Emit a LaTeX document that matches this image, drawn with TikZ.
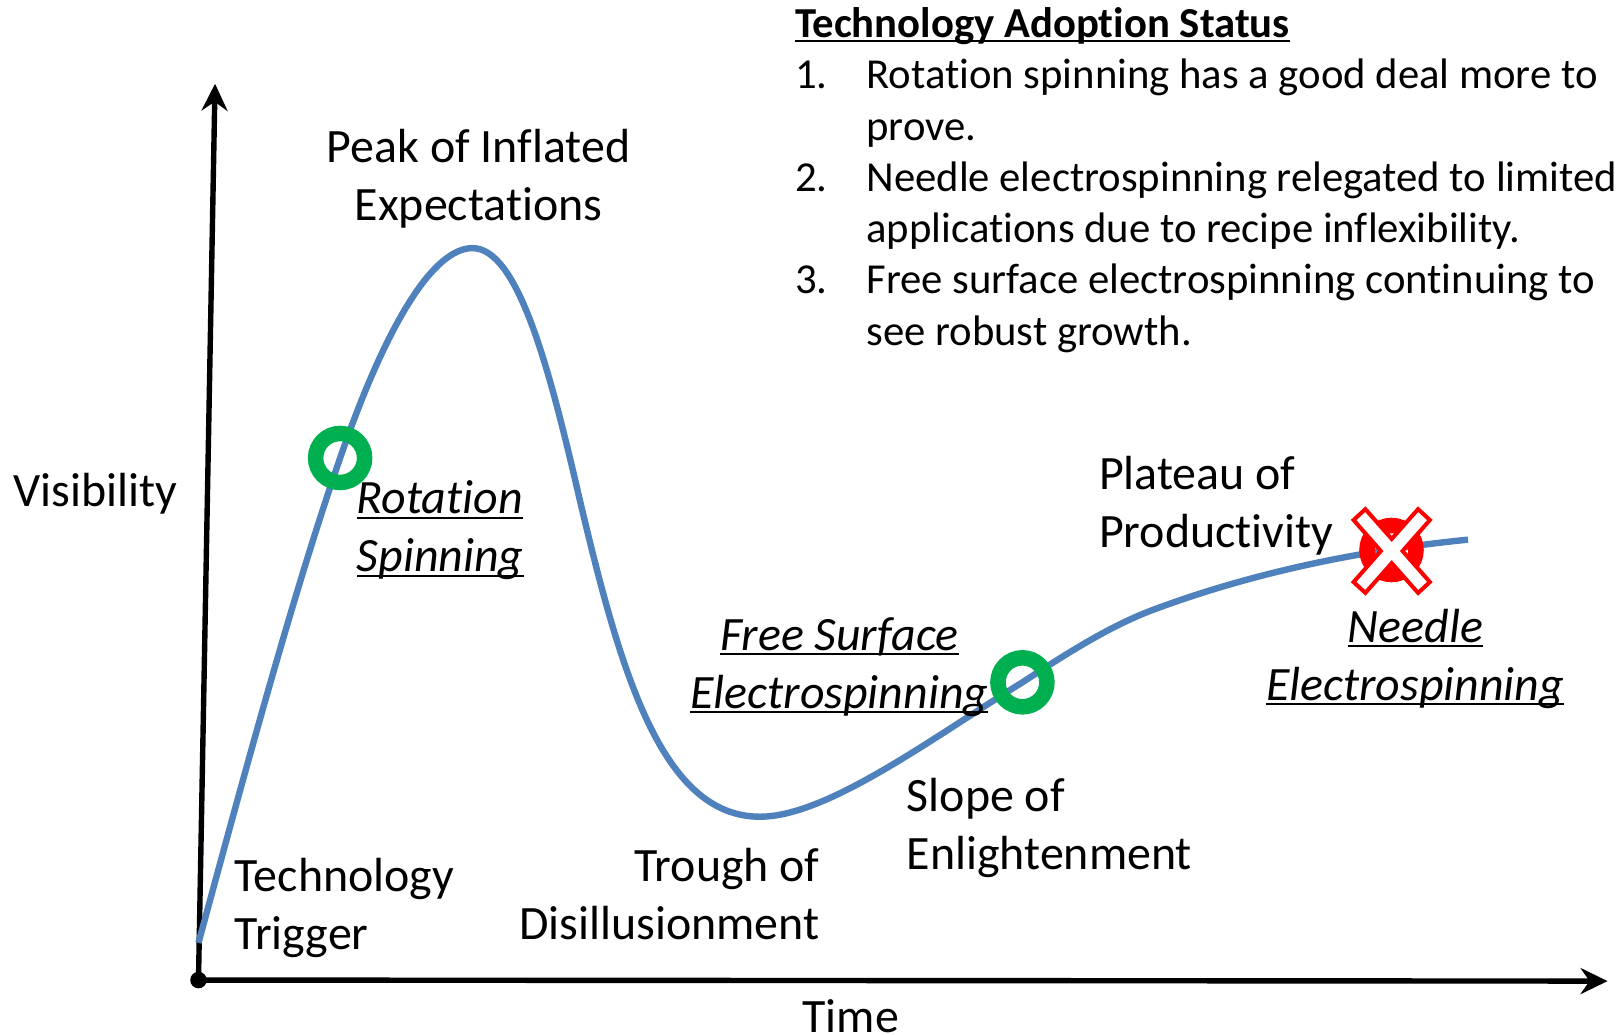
\documentclass[tikz,border=0pt]{standalone}
\usepackage{fontspec}
\setmainfont[Ligatures=NoCommon]{Carlito}
\usetikzlibrary{arrows.meta}
\newsavebox{\ulbox}
\newcommand{\lineunder}[1]{\sbox{\ulbox}{#1}\rlap{\rule[-5pt]{\wd\ulbox}{2.1pt}}\usebox{\ulbox}}
\definecolor{curveblue}{HTML}{4F81BD}
\definecolor{ringgreen}{HTML}{00B050}
\tikzset{
  x=1.0338pt,y=-1.0338pt,
  axisline/.style={line width=5.4pt,draw=black,-{Stealth[length=27pt,width=26pt,inset=9pt]}},
  hype/.style={line width=6.4pt,draw=curveblue},
  ring/.style={circle,draw=ringgreen,line width=15.5pt,minimum size=49pt,outer sep=0pt,inner sep=0pt,fill=none},
  badring/.style={circle,draw=red,line width=15.5pt,minimum size=49pt,outer sep=0pt,inner sep=0pt,fill=none},
  lab/.style={inner sep=0pt,font=\fontsize{47.9}{57.9}\selectfont,text=black},
  italab/.style={lab,font=\fontsize{47.9}{57.9}\selectfont\itshape},
  listtext/.style={inner sep=0pt,font=\fontsize{42.7}{51.3}\selectfont,text=black,align=left},
}
\begin{document}
\begin{tikzpicture}
\useasboundingbox (0,0) rectangle (1568,1001);
% axes
\node[circle,fill=black,minimum size=16.5pt,inner sep=0pt] (origin) at (192,948) {};
\coordinate (ytip) at (208,81);
\coordinate (xtip) at (1555,949);
\draw[axisline] (origin.center) -- (ytip);
\draw[axisline] (origin.center) -- (xtip);
% curve
\draw[hype] (192,912) .. controls (240,735) and (285,570) .. (329,443)
  .. controls (375,310) and (420,240) .. (457,240)
  .. controls (500,240) and (530,350) .. (560,480)
  .. controls (600,650) and (640,790) .. (735,790)
  .. controls (800,790) and (900,715) .. (989,660)
  .. controls (1035,630) and (1075,605) .. (1115,590)
  .. controls (1190,562) and (1290,535) .. (1420,522);
% markers
\node[ring] (rotmark) at (329,443) {};
\node[ring] (freemark) at (989,660) {};
\node[badring] (needlemark) at (1346,532) {};
\begin{scope}[shift={(1346.2,533)},scale=0.30]
\draw[draw=red,fill=white,line width=4pt,miter limit=10]
 (-85,-135) -- (0,-39) -- (85,-135) -- (123,-100) -- (35,0) -- (123,100) -- (85,135)
 -- (0,39) -- (-85,135) -- (-123,100) -- (-35,0) -- (-123,-100) -- cycle;
\end{scope}
% labels
\node[lab,align=center,anchor=north] (peak) at (463,125) {Peak of Inflated\\Expectations};
\node[lab,align=left,anchor=north west] (trigger) at (227,830) {Technology\\Trigger};
\node[lab,align=right,anchor=north east] (trough) at (793,820) {Trough of\\Disillusionment};
\node[lab,align=left,anchor=north west] (slope) at (877,753) {Slope of\\Enlightenment};
\node[lab,align=left,anchor=north west] (plateau) at (1063,441) {Plateau of\\Productivity};
\node[lab,anchor=base west] (vis) at (13,490) {Visibility};
\node[lab,anchor=base] (time) at (823,999) {Time};
\node[italab,align=left,anchor=north west] (rot) at (345,465) {\lineunder{Rotation}\\\lineunder{Spinning}};
\node[italab,align=center,anchor=north] (free) at (812,597) {\lineunder{Free Surface}\\\lineunder{Electrospinning}};
\node[italab,align=center,anchor=north] (needle) at (1369,589) {\lineunder{Needle}\\\lineunder{Electrospinning}};
% status text
\node[listtext,anchor=north west,font=\fontsize{42.7}{51.3}\selectfont\bfseries] (head) at (769,7) {\lineunder{Technology Adoption Status}};
\node[listtext,anchor=north west] (items) at (769,57) {\makebox[71.3pt][l]{1.}Rotation spinning has a good deal more to\\
\hspace*{71.3pt}prove.\\
\makebox[71.3pt][l]{2.}Needle electrospinning relegated to limited\\
\hspace*{71.3pt}applications due to recipe inflexibility.\\
\makebox[71.3pt][l]{3.}Free surface electrospinning continuing to\\
\hspace*{71.3pt}see robust growth.};
\end{tikzpicture}
\end{document}
